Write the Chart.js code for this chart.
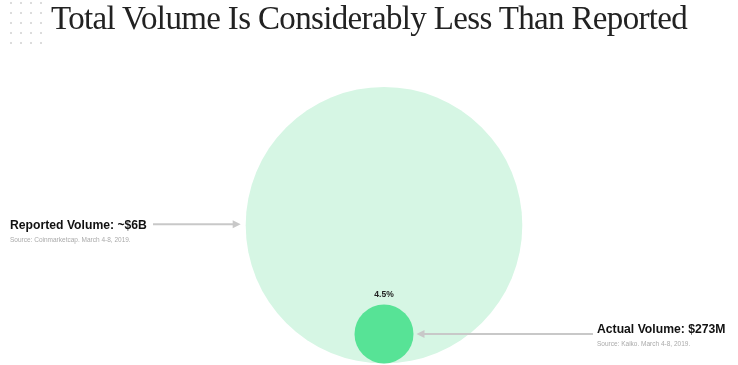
<!DOCTYPE html>
<html>
<head>
<meta charset="utf-8">
<script src="https://cdn.jsdelivr.net/npm/chart.js@4/dist/chart.umd.min.js"></script>
<style>
  html, body { margin: 0; padding: 0; background: #fff; }
  #wrap { position: relative; width: 738px; height: 365px; overflow: hidden; }
  #dots { position: absolute; left: 6px; top: -2px; width: 42px; height: 50px;
    background-image: radial-gradient(circle, #dcdcdc 0.9px, transparent 1.2px);
    background-size: 10px 10px; }
  #title { position: absolute; left: 51px; top: 0px; margin: 0;
    font-family: "Liberation Serif", "DejaVu Serif", serif; font-weight: normal;
    font-size: 33px; letter-spacing: -0.65px; color: #222; white-space: nowrap; line-height: 1.15; }
  .lab { position: absolute; font-family: "Liberation Sans", Arial, sans-serif; font-weight: bold;
    font-size: 12.2px; color: #111; white-space: nowrap; }
  .src { position: absolute; font-family: "Liberation Sans", Arial, sans-serif; font-size: 6.5px;
    color: #aaa; white-space: nowrap; }
  canvas { position: absolute; left: 0; top: 0; }
</style>
</head>
<body>
<div id="wrap">
  <canvas id="c" width="738" height="365"></canvas>
  <div id="dots"></div>
  <h1 id="title">Total Volume Is Considerably Less Than Reported</h1>
  <div class="lab" id="l1" style="left:10px; top:217.5px;">Reported Volume: ~$6B</div>
  <div class="src" style="left:10px; top:236px;">Source: Coinmarketcap. March 4-8, 2019.</div>
  <div class="lab" id="l2" style="left:597px; top:322px;">Actual Volume: $273M</div>
  <div class="src" style="left:597px; top:339.5px;">Source: Kaiko. March 4-8, 2019.</div>
</div>
<script>
// Data (USD millions)
const categories = ["Reported Volume", "Actual Volume"];
const volumes = [6000, 273];
const shareLabels = ["", "4.5%"];
const colors = ["rgb(214,246,228)", "rgb(87,227,150)"];

// Style constants
const MAX_RADIUS = 138.3;
const W = 738, H = 365, PAD_BOTTOM = 1.5, CENTER_X = 384;

const maxV = Math.max(...volumes);
const radii = volumes.map(v => MAX_RADIUS * Math.sqrt(v / maxV));

const datasets = categories.map((c, i) => ({
  label: c,
  data: [{ x: 0, y: radii[i], r: radii[i] }],
  backgroundColor: colors[i],
  borderWidth: 0,
  hoverBorderWidth: 0,
  order: categories.length - i,
  clip: false
}));

const annot = {
  id: 'annot',
  afterDatasetsDraw(chart) {
    const ctx = chart.ctx;
    const big = chart.getDatasetMeta(0).data[0];
    const small = chart.getDatasetMeta(1).data[0];
    const rb = big.options.radius, rs = small.options.radius;
    ctx.save();
    ctx.strokeStyle = '#c8c8c8';
    ctx.fillStyle = '#c8c8c8';
    ctx.lineWidth = 2;
    // left arrow to big bubble
    const ly = big.y - 1;
    const lTip = big.x - rb - 5;
    ctx.beginPath(); ctx.moveTo(153, ly); ctx.lineTo(lTip - 6, ly); ctx.stroke();
    ctx.beginPath(); ctx.moveTo(lTip, ly); ctx.lineTo(lTip - 8, ly - 4); ctx.lineTo(lTip - 8, ly + 4); ctx.closePath(); ctx.fill();
    // right arrow to small bubble
    const ry = small.y;
    const rTip = small.x + rs + 3;
    ctx.beginPath(); ctx.moveTo(593, ry); ctx.lineTo(rTip + 6, ry); ctx.stroke();
    ctx.beginPath(); ctx.moveTo(rTip, ry); ctx.lineTo(rTip + 8, ry - 4); ctx.lineTo(rTip + 8, ry + 4); ctx.closePath(); ctx.fill();
    // share label
    ctx.fillStyle = '#222';
    ctx.font = 'bold 8.5px "Liberation Sans", Arial, sans-serif';
    ctx.textAlign = 'center';
    ctx.textBaseline = 'alphabetic';
    ctx.fillText(shareLabels[1], small.x, small.y - rs - 7);
    ctx.restore();
  }
};

new Chart(document.getElementById('c'), {
  type: 'bubble',
  data: { datasets },
  options: {
    responsive: false,
    animation: false,
    events: [],
    layout: { autoPadding: false, padding: { left: 2 * CENTER_X - W, right: 0, top: 0, bottom: PAD_BOTTOM } },
    scales: {
      x: { display: false, min: -1, max: 1 },
      y: { display: false, min: 0, max: H - PAD_BOTTOM }
    },
    plugins: { legend: { display: false }, tooltip: { enabled: false }, title: { display: false } }
  },
  plugins: [annot]
});
</script>
</body>
</html>
